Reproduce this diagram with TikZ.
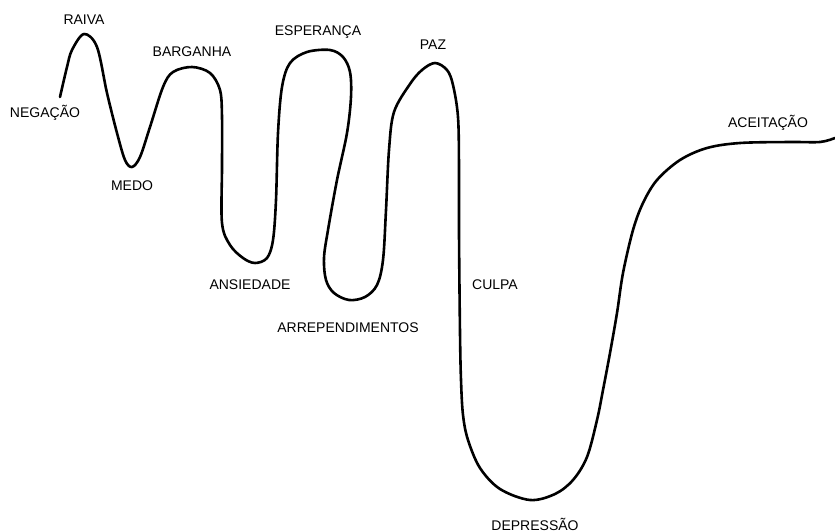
\documentclass[tikz,border=0pt]{standalone}
\usepackage{fontspec}
\setmainfont{Liberation Sans}
\usepackage{tikz}

\begin{document}
\begin{tikzpicture}[x=1pt,y=-1pt,
  curva/.style={line width=2.6pt,line cap=round,line join=round},
  rotulo/.style={font=\fontsize{14}{16}\selectfont,inner sep=0pt}]
  \useasboundingbox (0,0) rectangle (835,532);
  \draw[curva] plot[smooth,tension=.55] coordinates {
    (60,97) (67,67) (72,50) (84,34) (97,47) (107,93) (117,133) (125,160)
    (132,167) (140,157) (150,127) (163,87) (173,72) (192,67) (210,73)
    (220,90) (222,117) (222,167) (222,223) (230,245) (243,258) (255,263)
    (267,258) (273,240) (276,200) (278,133) (282,87) (290,63) (307,52)
    (330,50) (343,57) (350,72) (351,97) (347,133) (337,180) (328,230)
    (324,258) (326,280) (334,293) (349,300) (365,297) (377,285) (383,260)
    (386,210) (389,150) (394,112) (410,84) (422,70) (435,63) (447,70)
    (453,85) (458,117) (459,167) (459,233) (460,333) (461,380) (463,415)
    (468,440) (480,468) (500,489) (530,500) (555,494) (573,480) (587,457)
    (597,420) (603,390) (610,353) (617,313) (623,273) (633,230) (643,203)
    (657,180) (680,160) (707,148) (740,143) (790,142) (820,142) (835,138)};
  % rotulos
  \draw(45,113) node[rotulo] (neg) {NEGAÇÃO};
  \draw(84,20) node[rotulo] (rai) {RAIVA};
  \draw(132,186) node[rotulo] (med) {MEDO};
  \draw(192,52) node[rotulo] (bar) {BARGANHA};
  \draw(250,285) node[rotulo] (ans) {ANSIEDADE};
  \draw(318,32) node[rotulo] (esp) {ESPERANÇA};
  \draw(348,328) node[rotulo] (arr) {ARREPENDIMENTOS};
  \draw(433,45) node[rotulo] (paz) {PAZ};
  \draw(495,285) node[rotulo] (cul) {CULPA};
  \draw(535,524) node[rotulo] (dep) {DEPRESSÃO};
  \draw(768,123) node[rotulo] (ace) {ACEITAÇÃO};
\end{tikzpicture}
\end{document}
